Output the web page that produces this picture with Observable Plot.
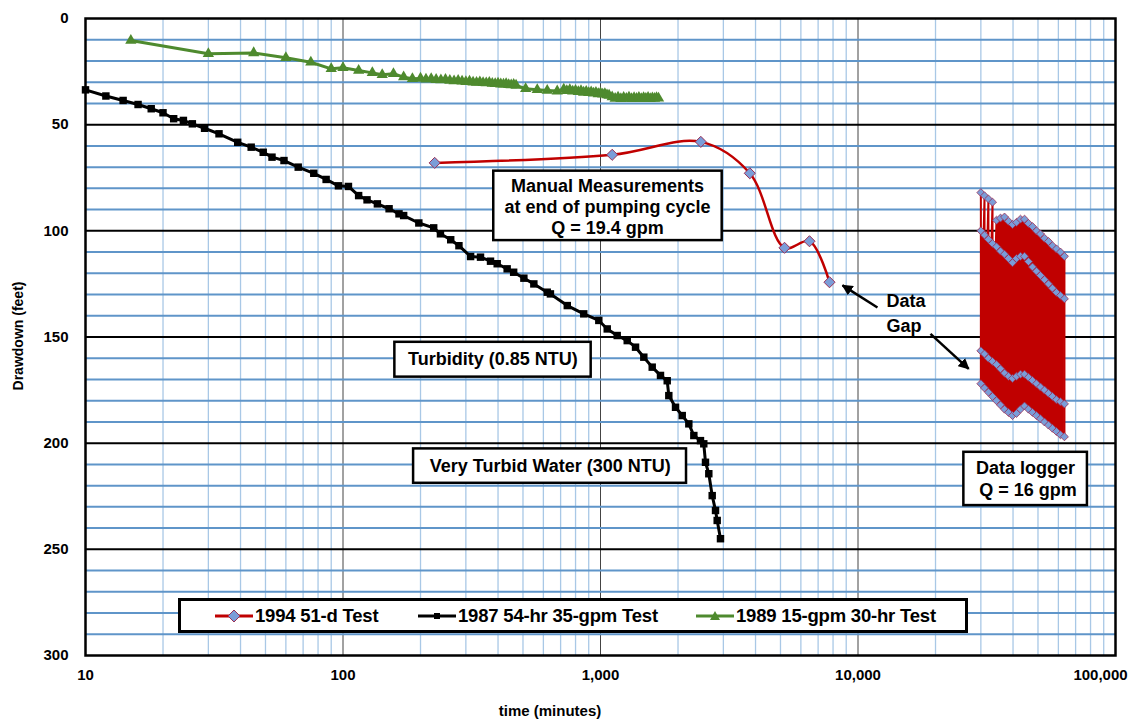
<!DOCTYPE html>
<html><head><meta charset="utf-8">
<script src="https://cdn.jsdelivr.net/npm/d3@7"></script>
<script src="https://cdn.jsdelivr.net/npm/@observablehq/plot@0.6"></script>
<style>
html,body{margin:0;padding:0;background:#fff;}
#wrap{position:relative;width:1133px;height:721px;font-family:"Liberation Sans",Arial,sans-serif;}
#legend{position:absolute;left:178px;top:598px;width:784px;height:29px;border:3px solid #000;background:#fff;
 font-family:"Liberation Sans",Arial,sans-serif;font-weight:bold;font-size:18.5px;}
#legend .it{position:absolute;top:0;height:29px;display:flex;align-items:center;white-space:nowrap;letter-spacing:-0.2px;}
#legend svg{margin-right:2px;}
</style></head><body><div id="wrap"></div>
<script>
// ---- data ----
const blackT = [10,12,14,16,18,20,22,24,26,29,33,39,44,49,53,59,67,77,86,96,105,115,124,136,151,165,172,197,225,239,262,282,313,342,374,397,434,460,504,551,621,639,743,861,985,1062,1161,1270,1368,1473,1588,1710,1816,1842,1956,2077,2203,2304,2445,2518,2557,2634,2715,2797,2839,2924];
const blackD = [33.6,36.5,38.6,40.5,42.5,44.4,47.2,48.0,49.6,51.7,54.3,58.3,60.6,63,65.3,66.9,70,72.9,75.8,78.8,79.1,83.4,85.4,87.3,89.6,92,92.8,96.3,98.6,101.4,104.2,107,112.1,112.4,114.3,115.5,117.9,119.5,122.3,125,128.9,129.7,135.2,139.1,142.2,146.2,149.3,151.7,154.8,159.5,164.2,168.1,170.6,177.6,183.1,187,190.9,196.4,198.8,200.3,209,214.4,224.7,231.7,236.4,245];

const greenT = [15,30,45,60,75,90,100,115,130,142,157,172,186,
 200,210,220,230,240,250,260,270,280,290,300,310,320,330,340,350,360,370,380,390,400,410,420,430,440,450,460,470,
 512,568,621,679,
 720,740,760,780,800,820,840,860,880,900,920,940,960,980,1000,1020,1040,1060,1080,
 1110,1140,1170,1200,1230,1260,1290,1320,1350,1380,1410,1440,1470,1500,1530,1560,1590,1620,1650,1680];
const greenD = [10.4,16.6,16.2,18.5,20.6,23.7,23.2,24.5,25.6,26.5,26,27.6,28.4,
 28.2,28.6,28.4,28.8,29.0,28.8,29.2,29.4,29.2,29.6,29.8,29.6,30.0,30.1,29.9,30.3,30.4,30.2,30.6,30.7,30.5,30.9,31.0,30.8,31.2,31.3,31.1,31.5,
 33.1,33.6,33.9,34.2,
 33.3,34.0,33.6,34.3,33.9,34.5,34.1,34.8,34.4,35.0,34.6,35.2,34.9,35.5,35.1,35.7,35.4,36.0,36.2,
 37.0,37.7,37.1,37.8,37.2,37.7,37.1,37.8,37.3,37.7,37.2,37.8,37.3,37.7,37.2,37.8,37.4,37.7,37.3,37.6];

const manualT = [227,1110,2452,3800,5183,6480,7750];
const manualD = [68,64.2,58.1,72.9,108,104.9,124.2];

const logT = [30000,31000,32100,33300,34500,35760,37070,38420,39810,41260,42760,44320,45930,47600,49330,51120,52990,54920,56910,58980,61130,63350];
const logA = [82,83.5,85,86.5,95,94,93.5,95.5,97,96,94.5,94.5,96.5,98,100,101.5,103.5,105,107,108.5,110,112];
const logB = [100,102,104,106,107.5,109.5,111,113,115,113,112,112,114.5,117,119,121,123,125,127,129,130.5,132];
const logC = [156.5,158,160,161.5,163,165,167,168.5,169.5,168.5,167.5,167.5,169,170.5,172,173.5,175,176.5,178,179.5,180.5,181.5];
const logD = [172,174,176,178,180,182,184,185.5,187,186,184,182.5,184,185.5,187,188.5,190,191.5,193,194.5,196,197];

const xTicks = [10,100,1000,10000,100000];
const yTicks = [0,50,100,150,200,250,300];

const seriesNames = ["1994 51-d Test","1987 54-hr 35-gpm Test","1989 15-gpm 30-hr Test"];

// annotation boxes (data units)
const boxes = [
 {x1:385,x2:2969,y1:71.9,y2:104.6},
 {x1:159,x2:920,y1:152.5,y2:168.9},
 {x1:188,x2:2158,y1:202.7,y2:218.9},
 {x1:25770,x2:77800,y1:204.3,y2:229.4}
];
const labels = [
 {x:1064,y:79.1,text:"Manual Measurements"},
 {x:1064,y:89,text:"at end of pumping cycle"},
 {x:1064,y:98.9,text:"Q = 19.4 gpm"},
 {x:382,y:160.6,text:"Turbidity (0.85 NTU)"},
 {x:638,y:210.8,text:"Very Turbid Water (300 NTU)"},
 {x:44730,y:212,text:"Data logger"},
 {x:44730,y:222.3,text:" Q = 16 gpm"}
];
const gapLabels = [{x:12900,y:133.3,text:"Data"},{x:12900,y:145,text:"Gap"}];
const arrows = [
 {x1:11900,y1:136.1,x2:8710,y2:125.7},
 {x1:19120,y1:148.5,x2:26900,y2:165}
];

// ---- build tables ----
const black = blackT.map((t,i)=>({t,d:blackD[i]}));
const green = greenT.map((t,i)=>({t,d:greenD[i]}));
const manual = manualT.map((t,i)=>({t,d:manualD[i]}));
const logRows = logT.map((t,i)=>({t,a:logA[i],b:logB[i],c:logC[i],d:logD[i]}));
const zig = [];
logRows.forEach(r=>{ zig.push({t:r.t,d:r.a}); zig.push({t:r.t,d:r.d}); zig.push({t:r.t,d:r.b}); zig.push({t:r.t,d:r.c}); });
const logDots = logRows.flatMap(r=>[{t:r.t,d:r.a},{t:r.t,d:r.b},{t:r.t,d:r.c},{t:r.t,d:r.d}]);

const minorX = [];
for (let e=1;e<5;e++) for (let m=2;m<10;m++) minorX.push(m*Math.pow(10,e));
const minorY = d3.range(10,300,10).filter(v=>v%50!==0);
const majorY = yTicks.filter(v=>v>0 && v<300);

const RED="#c00000", GREEN="#4e8a2e", DFILL="#7a9dd8", DSTROKE="#9b2f55";

const chart = Plot.plot({
 width:1133, height:721,
 marginLeft:85, marginRight:18, marginTop:18, marginBottom:66,
 x:{type:"log", domain:[10,100000]},
 y:{domain:[0,300], reverse:true},
 style:{fontFamily:"'Liberation Sans',Arial,sans-serif", background:"white", overflow:"visible"},
 marks:[
  Plot.ruleX(minorX,{stroke:"#a9c8e6",strokeWidth:1.3}),
  Plot.ruleX(xTicks.slice(1,4),{stroke:"#444",strokeWidth:1}),
  Plot.ruleY(minorY,{stroke:"#5f95c9",strokeWidth:2}),
  Plot.ruleY(majorY,{stroke:"#000",strokeWidth:2}),
  Plot.axisX({ticks:xTicks.slice(0,4), tickFormat:d3.format(","), tickSize:0, tickPadding:14, fontSize:15, fontWeight:"bold", label:null}),
  Plot.axisX({ticks:xTicks.slice(4), tickFormat:d3.format(","), tickSize:0, tickPadding:14, fontSize:15, fontWeight:"bold", label:null, dx:-15}),
  Plot.axisY({ticks:yTicks, tickSize:0, tickPadding:17, fontSize:15, fontWeight:"bold", label:null}),
  // 1987
  Plot.line(black,{x:"t",y:"d",stroke:"#000",strokeWidth:3}),
  Plot.dot(black,{x:"t",y:"d",symbol:"square",r:4.2,fill:"#000",stroke:"none"}),
  // 1989
  Plot.line(green,{x:"t",y:"d",stroke:GREEN,strokeWidth:3}),
  Plot.dot(green,{x:"t",y:"d",symbol:"triangle",r:4.2,fill:GREEN,stroke:"none"}),
  // 1994 manual
  Plot.line(manual,{x:"t",y:"d",stroke:RED,strokeWidth:2.5,curve:"catmull-rom"}),
  Plot.dot(manual,{x:"t",y:"d",symbol:"diamond2",r:5,fill:DFILL,stroke:DSTROKE,strokeWidth:1}),
  // 1994 logger
  Plot.areaY(logRows,{x:"t",y1:"b",y2:"d",fill:RED}),
  Plot.areaY(logRows.slice(4),{x:"t",y1:"a",y2:"b",fill:RED}),
  Plot.line(zig,{x:"t",y:"d",stroke:RED,strokeWidth:2}),
  Plot.dot(logDots,{x:"t",y:"d",symbol:"diamond2",r:3.6,fill:DFILL,stroke:DSTROKE,strokeWidth:0.8}),
  // annotations
  Plot.rect(boxes,{x1:"x1",x2:"x2",y1:"y1",y2:"y2",fill:"white",stroke:"#000",strokeWidth:2.5}),
  Plot.text(labels,{x:"x",y:"y",text:"text",fontSize:18,fontWeight:"bold",fill:"#000"}),
  Plot.text(gapLabels,{x:"x",y:"y",text:"text",fontSize:18,fontWeight:"bold",fill:"#000",textAnchor:"start"}),
  Plot.link(arrows,{x1:"x1",y1:"y1",x2:"x2",y2:"y2",stroke:"#000",strokeWidth:2.5,className:"gaparrow"}),
  Plot.frame({stroke:"#000",strokeWidth:2.5})
 ]
});
const wrap = document.getElementById("wrap");
wrap.appendChild(chart);
const svg = d3.select(chart);
const mk = svg.append("defs").append("marker").attr("id","ahead").attr("viewBox","0 0 10 10")
 .attr("refX",9).attr("refY",5).attr("markerWidth",4.4).attr("markerHeight",4.4).attr("orient","auto");
mk.append("path").attr("d","M0,0L10,5L0,10Z").attr("fill","#000");
svg.selectAll(".gaparrow path").attr("marker-end","url(#ahead)");
svg.append("text").attr("transform","translate(23,336) rotate(-90)").attr("text-anchor","middle")
 .attr("font-weight","bold").attr("font-size",14).attr("font-family","'Liberation Sans',Arial,sans-serif").text("Drawdown (feet)");
svg.append("text").attr("x",550).attr("y",716).attr("text-anchor","middle")
 .attr("font-weight","bold").attr("font-size",15).attr("font-family","'Liberation Sans',Arial,sans-serif").text("time (minutes)");

// legend
const leg = document.createElement("div"); leg.id="legend";
const sw = [
 {stroke:RED, sym:"diamond", left:34},
 {stroke:"#000", sym:"square", left:237},
 {stroke:GREEN, sym:"triangle", left:515}
];
seriesNames.forEach((name,i)=>{
 const it=document.createElement("div"); it.className="it";
 const s=sw[i];
 it.style.left=s.left+"px";
 let m="";
 if(s.sym==="diamond") m=`<path d="M19,2 L25,8 L19,14 L13,8Z" fill="${DFILL}" stroke="${DSTROKE}" stroke-width="1"/>`;
 if(s.sym==="square") m=`<rect x="16" y="5" width="6" height="6" fill="#000"/>`;
 if(s.sym==="triangle") m=`<path d="M19,3 L24,12 L14,12Z" fill="${GREEN}"/>`;
 it.innerHTML=`<svg width="38" height="16"><line x1="0" y1="8" x2="38" y2="8" stroke="${s.stroke}" stroke-width="3"/>${m}</svg><span>${name}</span>`;
 leg.appendChild(it);
});
wrap.appendChild(leg);
</script></body></html>
